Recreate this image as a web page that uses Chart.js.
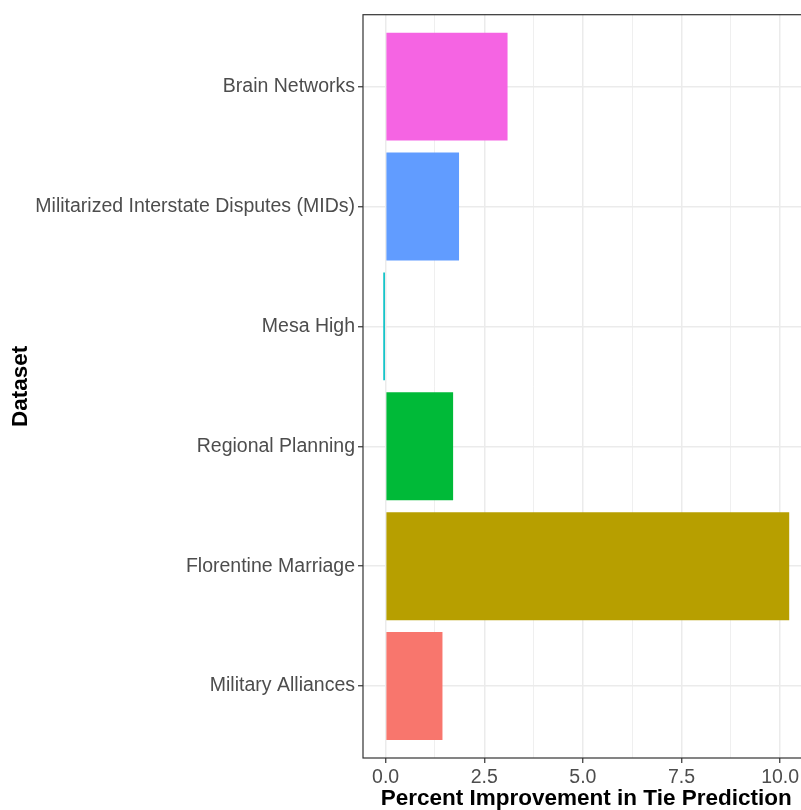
<!DOCTYPE html>
<html>
<head>
<meta charset="utf-8">
<script src="https://cdn.jsdelivr.net/npm/chart.js@4.4.1/dist/chart.umd.min.js"></script>
<style>
  html, body { margin: 0; padding: 0; background: #fff; overflow: hidden; }
  #wrap { width: 812px; height: 810px; }
</style>
</head>
<body>
<div id="wrap"><canvas id="chart" width="812" height="810"></canvas></div>
<script>
// datasets, bottom to top (factor order)
const datasets = ['Military Alliances', 'Florentine Marriage', 'Regional Planning',
                  'Mesa High', 'Militarized Interstate Disputes (MIDs)', 'Brain Networks'];
const improvement = [1.44, 10.23, 1.71, -0.06, 1.86, 3.09];
const barColors = ['#F8766D', '#B79F00', '#00BA38', '#00BFC4', '#619CFF', '#F564E3'];

const xTicks = [0, 1.25, 2.5, 3.75, 5, 6.25, 7.5, 8.75, 10];
const xTickLabels = ['0.0', '', '2.5', '', '5.0', '', '7.5', '', '10.0'];

const FONT = 'Liberation Sans, Arial, Helvetica, sans-serif';

// ggplot-like 5% expansion of the value range
const lo = Math.min(0, ...improvement), hi = Math.max(0, ...improvement);
const pad = (hi - lo) * 0.05;

const panelBorder = {
    id: 'panelBorder',
    afterDraw(chart) {
        const a = chart.chartArea, ctx = chart.ctx;
        ctx.save();
        ctx.strokeStyle = '#333333';
        ctx.lineWidth = 1.2;
        ctx.strokeRect(a.left, a.top, a.right - a.left, a.bottom - a.top);
        ctx.restore();
    }
};

new Chart(document.getElementById('chart'), {
    type: 'bar',
    data: {
        datasets: [{
            data: datasets.map((d, i) => ({ x: improvement[i], y: i + 1 })),
            backgroundColor: barColors,
            borderWidth: 0,
            categoryPercentage: 1,
            barPercentage: 0.9
        }]
    },
    options: {
        indexAxis: 'y',
        responsive: false,
        animation: false,
        layout: { padding: { top: 13, right: 2.5, bottom: 0, left: 0 } },
        plugins: { legend: { display: false }, tooltip: { enabled: false } },
        scales: {
            x: {
                type: 'linear',
                min: lo - pad,
                max: hi + pad,
                afterBuildTicks: s => { s.ticks = xTicks.map(v => ({ value: v })); },
                afterFit: s => { s.height = 52; },
                border: { display: false },
                grid: {
                    color: '#EBEBEB',
                    lineWidth: c => (xTickLabels[c.index] ? 1.5 : 0.8),
                    tickColor: c => (xTickLabels[c.index] ? '#333333' : 'rgba(0,0,0,0)'),
                    tickWidth: 1.2,
                    tickLength: 5
                },
                ticks: {
                    autoSkip: false, maxRotation: 0, padding: 3,
                    color: '#4D4D4D',
                    font: { family: FONT, size: 19.5 },
                    callback: (v, i) => xTickLabels[i]
                },
                title: {
                    display: true,
                    text: 'Percent Improvement in Tie Prediction',
                    color: '#000',
                    padding: { top: 0, bottom: -2 },
                    font: { family: FONT, size: 22.5, weight: 'bold' }
                }
            },
            y: {
                type: 'linear',
                offset: false,
                min: 0.4,
                max: datasets.length + 0.6,
                afterBuildTicks: s => { s.ticks = datasets.map((d, i) => ({ value: i + 1 })); },
                afterFit: s => { s.width = 363; },
                border: { display: false },
                grid: {
                    offset: false,
                    color: '#EBEBEB',
                    lineWidth: 1.5,
                    tickColor: '#333333',
                    tickWidth: 1.2,
                    tickLength: 5
                },
                ticks: {
                    autoSkip: false, padding: 3,
                    color: '#4D4D4D',
                    font: { family: FONT, size: 19.5 },
                    callback: v => datasets[v - 1]
                },
                title: {
                    display: true,
                    text: 'Dataset',
                    color: '#000',
                    padding: { top: 7, bottom: 0 },
                    font: { family: FONT, size: 22.5, weight: 'bold' }
                }
            }
        }
    },
    plugins: [panelBorder]
});
</script>
</body>
</html>
